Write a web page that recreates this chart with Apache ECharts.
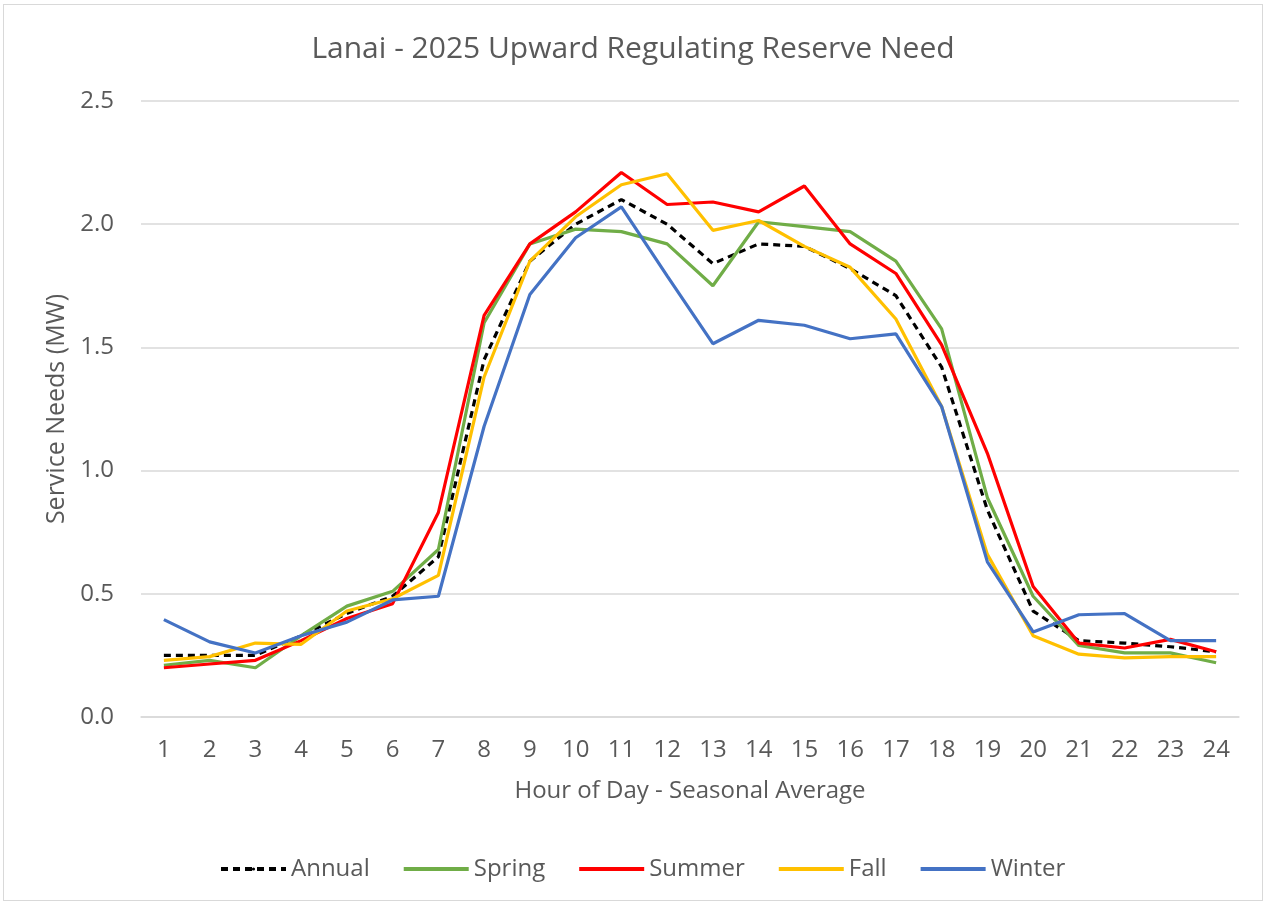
<!DOCTYPE html>
<html>
<head>
<meta charset="utf-8">
<script src="https://cdn.jsdelivr.net/npm/echarts@6/dist/echarts.min.js"></script>
<style>
  html, body { margin: 0; padding: 0; background: #fff; }
  #chart { position: absolute; left: 3px; top: 4px; width: 1260px; height: 897px; border: 1px solid #d9d9d9; box-sizing: border-box; }
</style>
</head>
<body>
<div id="chart"></div>
<script>
// 数据
var hours = ['1','2','3','4','5','6','7','8','9','10','11','12','13','14','15','16','17','18','19','20','21','22','23','24'];
var annual = [0.25,0.25,0.25,0.33,0.42,0.49,0.65,1.45,1.85,2.00,2.10,2.00,1.84,1.92,1.91,1.82,1.71,1.42,0.84,0.43,0.31,0.30,0.285,0.265];
var spring = [0.21,0.23,0.20,0.33,0.45,0.51,0.68,1.60,1.92,1.98,1.97,1.92,1.75,2.01,1.99,1.97,1.85,1.575,0.89,0.49,0.29,0.26,0.26,0.22];
var summer = [0.20,0.215,0.23,0.31,0.40,0.46,0.83,1.63,1.92,2.05,2.21,2.08,2.09,2.05,2.155,1.92,1.80,1.51,1.07,0.53,0.30,0.28,0.315,0.265];
var fall = [0.23,0.245,0.30,0.295,0.43,0.48,0.575,1.38,1.85,2.03,2.16,2.205,1.975,2.015,1.91,1.825,1.615,1.26,0.66,0.33,0.255,0.24,0.245,0.245];
var winter = [0.395,0.305,0.26,0.33,0.385,0.475,0.49,1.18,1.715,1.945,2.07,1.79,1.515,1.61,1.59,1.535,1.555,1.26,0.63,0.345,0.415,0.42,0.31,0.31];

var font = 'Open Sans';
var grey = '#595959';

var myChart = echarts.init(document.getElementById('chart'));

function mkLine(name, data, color, dash) {
  return {
    name: name,
    type: 'line',
    data: data,
    symbol: 'none',
    smooth: false,
    lineStyle: { color: color, width: 3.2, type: dash ? [7, 5] : 'solid' },
    itemStyle: { color: color }
  };
}

var option = {
  animation: false,
  title: {
    text: 'Lanai - 2025 Upward Regulating Reserve Need',
    left: 'center',
    top: 24,
    textStyle: { fontFamily: font, fontSize: 30, fontWeight: 'normal', color: grey }
  },
  legend: {
    bottom: 14,
    left: 210,
    itemWidth: 65,
    itemHeight: 4,
    itemGap: 32,
    lineStyle: { width: 4 },
    textStyle: { fontFamily: font, fontSize: 24, color: grey },
    data: ['Annual', 'Spring', 'Summer', 'Fall', 'Winter']
  },
  grid: { left: 137, right: 23, top: 96, bottom: 183 },
  xAxis: {
    type: 'category',
    data: hours,
    boundaryGap: true,
    name: 'Hour of Day - Seasonal Average',
    nameLocation: 'middle',
    nameGap: 62,
    nameTextStyle: { fontFamily: font, fontSize: 24, color: grey },
    axisLine: { lineStyle: { color: '#d9d9d9', width: 1.5 } },
    axisTick: { inside: true, length: 7, lineStyle: { color: '#d9d9d9', width: 1.5 } },
    axisLabel: { fontFamily: font, fontSize: 24, color: grey, margin: 21 }
  },
  yAxis: {
    type: 'value',
    min: 0,
    max: 2.5,
    interval: 0.5,
    name: 'Service Needs (MW)',
    nameLocation: 'middle',
    nameGap: 70,
    nameTextStyle: { fontFamily: font, fontSize: 25, color: grey },
    axisLine: { show: false },
    axisTick: { show: false },
    axisLabel: {
      fontFamily: font, fontSize: 24, color: grey, margin: 27,
      formatter: function (v) { return v.toFixed(1); }
    },
    splitLine: { lineStyle: { color: '#d9d9d9', width: 1.5 } }
  },
  series: [
    mkLine('Annual', annual, '#000000', true),
    mkLine('Spring', spring, '#70AD47', false),
    mkLine('Summer', summer, '#FF0000', false),
    mkLine('Fall', fall, '#FFC000', false),
    mkLine('Winter', winter, '#4472C4', false)
  ]
};

myChart.setOption(option);
</script>
</body>
</html>
